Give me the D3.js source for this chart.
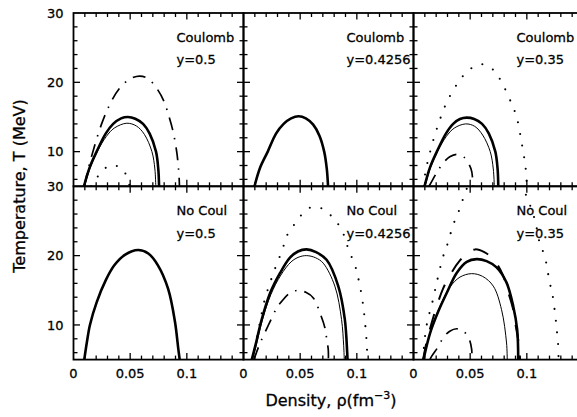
<!DOCTYPE html>
<html>
<head>
<meta charset="utf-8">
<script src="https://cdn.jsdelivr.net/npm/d3@7"></script>
<style>
  html, body { margin: 0; padding: 0; background: #fff; }
  svg { display: block; font-family: "DejaVu Sans", sans-serif; }
  text { fill: #000; stroke: #000; stroke-width: 0.3px; }
</style>
</head>
<body>
<svg id="chart" width="577" height="417"></svg>
<script>
(function () {
  'use strict';

  // ── Data ──────────────────────────────────────────────────────────────────
  var rhoTicks  = [0, 0.05, 0.1];
  var tempTicks = [10, 20, 30];
  var panelModel = ['Coulomb', 'Coulomb', 'Coulomb', 'No Coul', 'No Coul', 'No Coul'];
  var panelY     = ['y=0.5', 'y=0.4256', 'y=0.35', 'y=0.5', 'y=0.4256', 'y=0.35'];

  // [density fm^-3, T MeV]
  var p1Thick   = [[0.0092,5],[0.0142,7.7],[0.0204,10],[0.0284,12.6],[0.035,14.0],[0.042,14.8],[0.048,15.0],[0.0545,14.75],[0.0614,14.0],[0.0672,12.6],[0.0728,10],[0.0748,7.5],[0.0755,5]];
  var p1Thin    = [[0.0098,5],[0.0148,7.7],[0.021,10],[0.029,12.2],[0.036,13.4],[0.047,14.1],[0.0555,13.7],[0.0625,12.5],[0.0692,10],[0.0718,7.5],[0.0726,5]];
  var p1DashDot = [[0.0095,5],[0.013,7.5],[0.018,10.5],[0.0248,14],[0.032,16.8],[0.04,19],[0.05,20.5],[0.0585,20.9],[0.066,20.5],[0.074,19],[0.08,17.2],[0.084,15.2],[0.088,12.8],[0.0913,9.7],[0.0931,6.5],[0.0935,5]];
  var p1Dot     = [[0.0155,5],[0.0174,5.4],[0.0233,6.8],[0.0321,8.0],[0.0424,7.6],[0.0482,5.9],[0.0495,5]];

  var p2Thick   = [[0.0097,5],[0.0147,7.7],[0.0214,10],[0.0287,12.6],[0.0354,14.0],[0.042,14.8],[0.0487,15.1],[0.055,14.8],[0.0615,13.9],[0.067,12.3],[0.0712,10],[0.0735,7.5],[0.0746,5]];

  var p3Thick   = [[0.0097,5],[0.0145,7.7],[0.0206,10],[0.0286,12.6],[0.035,14.0],[0.041,14.7],[0.047,14.9],[0.0535,14.7],[0.0605,14.0],[0.0665,12.6],[0.0722,10],[0.0742,7.5],[0.0748,5]];
  var p3Thin    = [[0.0102,5],[0.015,7.7],[0.0212,10],[0.029,12.2],[0.036,13.4],[0.046,14.0],[0.054,13.65],[0.061,12.4],[0.0677,10],[0.0704,7.5],[0.0713,5]];
  var p3Dot     = [[0.0092,5],[0.0103,6.8],[0.0155,10.5],[0.022,14],[0.029,17],[0.0367,19.3],[0.0426,20.7],[0.0508,22.0],[0.0605,22.6],[0.0704,21.8],[0.0778,20.0],[0.0866,16.9],[0.091,15.0],[0.0954,11.3],[0.0989,7.7],[0.1,5]];
  var p3DashDot = [[0.0135,5],[0.0147,5.3],[0.0206,7.0],[0.0264,8.4],[0.032,9.25],[0.0382,9.6],[0.0445,9.2],[0.0508,7.5],[0.0523,5.8],[0.0527,5]];

  var p4Thick   = [[0.0095,5],[0.0118,7.5],[0.0145,10],[0.0205,13.3],[0.0286,16.5],[0.036,18.6],[0.0453,20.1],[0.057,20.8],[0.066,20.3],[0.0745,18.6],[0.0835,15.2],[0.0895,10.5],[0.0925,6.5],[0.0937,5]];

  var p5Thick   = [[0.0073,5],[0.0103,6.9],[0.0161,10.8],[0.0235,14.6],[0.0323,17.5],[0.041,19.7],[0.048,20.6],[0.0557,20.9],[0.064,20.5],[0.0733,19.4],[0.0836,15.6],[0.0894,10.8],[0.0915,6.0],[0.0918,5]];
  var p5Thin    = [[0.008,5],[0.011,6.9],[0.0168,10.8],[0.0242,14.4],[0.033,17.2],[0.042,19.1],[0.049,19.8],[0.0557,20.0],[0.0635,19.7],[0.0704,18.9],[0.0806,15.6],[0.0865,10.8],[0.0884,7],[0.0889,5]];
  var p5Dot     = [[0.0085,5],[0.0088,5.5],[0.0103,6.9],[0.0132,9.3],[0.0161,11.7],[0.0191,13.9],[0.0229,15.8],[0.0264,17.5],[0.0346,21],[0.0381,22.8],[0.044,24.3],[0.0513,25.9],[0.0601,27.0],[0.0704,26.7],[0.0792,25.4],[0.0865,23.75],[0.0933,20.6],[0.0982,18.7],[0.1012,16.8],[0.1041,14.4],[0.1062,12.0],[0.1085,7.9],[0.1091,6],[0.1093,5]];
  var p5DashDot = [[0.0093,5],[0.0103,5.5],[0.0147,7.4],[0.0229,10.3],[0.0293,12.45],[0.0337,13.4],[0.041,14.6],[0.0484,15.0],[0.055,14.7],[0.0616,13.9],[0.068,11.5],[0.0718,9.6],[0.0733,8.1],[0.0748,6.4],[0.0749,5]];

  var p6Thick   = [[0.0088,5],[0.0147,8.85],[0.022,12.0],[0.0293,14.6],[0.0381,17.5],[0.047,19.1],[0.0557,19.5],[0.0645,19.2],[0.0733,18.3],[0.0821,16.1],[0.088,12.7],[0.0915,9.3],[0.0924,5]];
  var p6Thin    = [[0.009,5],[0.0125,7.5],[0.018,10.5],[0.025,13.3],[0.0323,15.5],[0.041,16.9],[0.0513,17.4],[0.061,17.0],[0.0704,15.6],[0.0777,12.2],[0.0821,7.4],[0.0827,5]];
  var p6Dash    = [[0.0085,5],[0.0115,7.5],[0.0155,10],[0.0205,12.7],[0.026,15.2],[0.033,17.4],[0.041,19.3],[0.048,20.4],[0.0545,20.9],[0.0625,20.5],[0.0704,19.5],[0.0786,17.3],[0.0836,14.7],[0.088,12.2],[0.0905,9.6],[0.0933,6.9],[0.094,5]];
  var p6Dot     = [[0.0083,5],[0.0088,6],[0.0103,8.5],[0.0125,10.7],[0.0161,12.9],[0.0205,16.1],[0.0258,19.7],[0.0293,21.3],[0.0352,24.5],[0.0402,26.5],[0.044,28.3],[0.052,31.5],[0.062,33.5],[0.072,34],[0.082,33.5],[0.091,31.3],[0.0991,28.8],[0.107,25.2],[0.1114,21.8],[0.1158,19.9],[0.1202,16.1],[0.1226,14.4],[0.1255,10.8],[0.1267,8.8],[0.1276,7.2],[0.128,5]];
  var p6DashDot = [[0.0145,5],[0.0161,5.5],[0.022,6.9],[0.0264,8.2],[0.032,9.1],[0.0381,9.45],[0.044,9.1],[0.049,8.0],[0.0513,6.5],[0.0515,5]];

  // ── Styles ────────────────────────────────────────────────────────────────
  var styles = {
    thick:   { w: 2.6, dash: null },
    thin:    { w: 1.0, dash: null },
    dashdot: { w: 1.7, dash: '13,8,1.5,8' },
    dot:     { w: 2.1, dash: '0,11.8', cap: 'round' },
    dash:    { w: 2.0, dash: '16,15' }
  };

  var panelCurves = [
    [['thin', p1Thin], ['thick', p1Thick], ['dashdot', p1DashDot], ['dot', p1Dot]],
    [['thick', p2Thick]],
    [['thin', p3Thin], ['thick', p3Thick], ['dot', p3Dot], ['dashdot', p3DashDot]],
    [['thick', p4Thick]],
    [['thin', p5Thin], ['thick', p5Thick], ['dot', p5Dot], ['dashdot', p5DashDot]],
    [['thin', p6Thin], ['thick', p6Thick], ['dash', p6Dash], ['dot', p6Dot], ['dashdot', p6DashDot]]
  ];

  // ── Layout ────────────────────────────────────────────────────────────────
  var left0 = 73.5, top0 = 13, pw = 170, ph = 173.3;
  var svg = d3.select('#chart');
  var defs = svg.append('defs');

  panelCurves.forEach(function (curves, i) {
    var col = i % 3, row = Math.floor(i / 3);
    var L = left0 + col * pw, T = top0 + row * ph;
    var x = d3.scaleLinear().domain([0, 0.15]).range([L, L + pw]);
    var y = d3.scaleLinear().domain([5, 30]).range([T + ph, T]);

    defs.append('clipPath').attr('id', 'clip' + i)
      .append('rect').attr('x', L).attr('y', T).attr('width', pw).attr('height', ph);

    var g = svg.append('g');

    // curves
    var line = d3.line()
      .x(function (d) { return x(d[0]); })
      .y(function (d) { return y(d[1]); })
      .curve(d3.curveCatmullRom.alpha(0.5));

    var cg = g.append('g').attr('clip-path', 'url(#clip' + i + ')');
    curves.forEach(function (c) {
      var st = styles[c[0]];
      cg.append('path').datum(c[1])
        .attr('d', line)
        .attr('fill', 'none')
        .attr('stroke', '#000')
        .attr('stroke-width', st.w)
        .attr('stroke-dasharray', st.dash)
        .attr('stroke-linecap', st.cap || 'butt');
    });

    // ticks (inward on all four sides)
    var tg = g.append('g').attr('stroke', '#000').attr('stroke-width', 1.3);
    d3.range(1, 15).forEach(function (k) {
      var v = k / 100, major = (k % 5 === 0), len = major ? 6.5 : 4;
      tg.append('line').attr('x1', x(v)).attr('x2', x(v)).attr('y1', T + ph).attr('y2', T + ph - len);
      tg.append('line').attr('x1', x(v)).attr('x2', x(v)).attr('y1', T).attr('y2', T + len);
    });
    d3.range(6, 30, 2).forEach(function (v) {
      var major = (v % 10 === 0), len = major ? 6.5 : 4;
      tg.append('line').attr('y1', y(v)).attr('y2', y(v)).attr('x1', L).attr('x2', L + len);
      tg.append('line').attr('y1', y(v)).attr('y2', y(v)).attr('x1', L + pw).attr('x2', L + pw - len);
    });

    // frame
    g.append('rect').attr('x', L).attr('y', T).attr('width', pw).attr('height', ph)
      .attr('fill', 'none').attr('stroke', '#000').attr('stroke-width', 1.8);

    // panel labels
    g.append('text').attr('x', L + 103).attr('y', T + 28.8).attr('font-size', 13).text(panelModel[i]);
    g.append('text').attr('x', L + 103).attr('y', T + 51.3).attr('font-size', 13).text(panelY[i]);

    // y tick labels
    if (col === 0) {
      tempTicks.forEach(function (v) {
        g.append('text').attr('x', L - 10).attr('y', y(v)).attr('dy', '0.36em')
          .attr('text-anchor', 'end').attr('font-size', 13).text(v);
      });
    }
    // x tick labels
    if (row === 1) {
      rhoTicks.forEach(function (v) {
        g.append('text').attr('x', x(v)).attr('y', T + ph + 18.5)
          .attr('text-anchor', 'middle').attr('font-size', 13).text(String(v));
      });
    }
  });

  // ── Axis titles ───────────────────────────────────────────────────────────
  svg.append('text')
    .attr('transform', 'translate(25,186) rotate(-90)')
    .attr('text-anchor', 'middle').attr('font-size', 16)
    .text('Temperature, T (MeV)');

  var xt = svg.append('text').attr('x', 331).attr('y', 406)
    .attr('text-anchor', 'middle').attr('font-size', 16);
  xt.append('tspan').text('Density, \u03c1(fm');
  xt.append('tspan').attr('dy', -7).attr('font-size', 11).text('\u22123');
  xt.append('tspan').attr('dy', 7).text(')');
})();
</script>
</body>
</html>
